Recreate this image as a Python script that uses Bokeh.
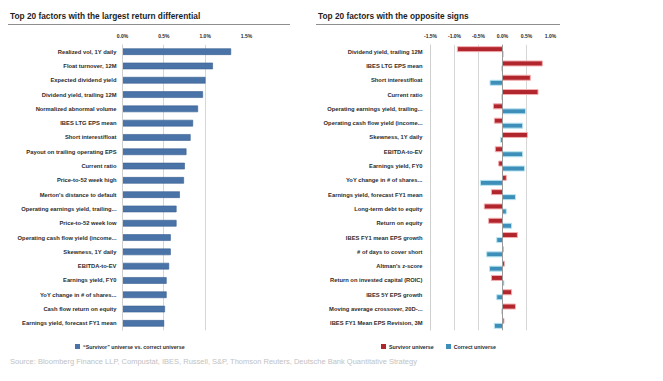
from bokeh.plotting import figure
from bokeh.models import (FactorRange, Range1d, FixedTicker, PrintfTickFormatter,
                          Span, Div, ColumnDataSource)
from bokeh.layouts import row, column
from bokeh.transform import dodge
from bokeh.embed import file_html
from bokeh.resources import INLINE

# ---------------- data ----------------
left_title = "Top 20 factors with the largest return differential"
right_title = "Top 20 factors with the opposite signs"

left_factors = [
    "Realized vol, 1Y daily", "Float turnover, 12M", "Expected dividend yield",
    "Dividend yield, trailing 12M", "Normalized abnormal volume", "IBES LTG EPS mean",
    "Short interest/float", "Payout on trailing operating EPS", "Current ratio",
    "Price-to-52 week high", "Merton's distance to default", "Operating earnings yield, trailing...",
    "Price-to-52 week low", "Operating cash flow yield (income...", "Skewness, 1Y daily",
    "EBITDA-to-EV", "Earnings yield, FY0", "YoY change in # of shares...",
    "Cash flow return on equity", "Earnings yield, forecast FY1 mean",
]
left_values = [1.31, 1.09, 1.00, 0.97, 0.91, 0.85, 0.82, 0.77, 0.75, 0.74,
               0.69, 0.65, 0.65, 0.58, 0.58, 0.56, 0.53, 0.53, 0.51, 0.50]

right_factors = [
    "Dividend yield, trailing 12M", "IBES LTG EPS mean", "Short interest/float", "Current ratio",
    "Operating earnings yield, trailing...", "Operating cash flow yield (income...",
    "Skewness, 1Y daily", "EBITDA-to-EV", "Earnings yield, FY0", "YoY change in # of shares...",
    "Earnings yield, forecast FY1 mean", "Long-term debt to equity", "Return on equity",
    "IBES FY1 mean EPS growth", "# of days to cover short", "Altman's z-score",
    "Return on invested capital (ROIC)", "IBES 5Y EPS growth", "Moving average crossover, 20D-...",
    "IBES FY1 Mean EPS Revision, 3M",
]
survivor = [-0.94, 0.83, 0.58, 0.74, -0.19, -0.17, 0.52, -0.15, -0.08, 0.08,
            -0.23, -0.38, -0.29, 0.31, 0.02, 0.04, -0.23, 0.19, 0.27, 0.03]
correct = [0.02, -0.02, -0.26, -0.02, 0.48, 0.42, -0.04, 0.42, 0.46, -0.46,
           0.27, 0.08, 0.19, -0.12, -0.33, -0.27, 0.03, -0.12, -0.02, -0.17]

left_ticks = [0.0, 0.5, 1.0, 1.5]
right_ticks = [-1.5, -1.0, -0.5, 0.0, 0.5, 1.0]

left_legend = "\u201cSurvivor\u201d universe vs. correct universe"
right_legend = ["Survivor universe", "Correct universe"]
source_text = ("Source: Bloomberg Finance LLP, Compustat, IBES, Russell, S&amp;P, "
               "Thomson Reuters, Deutsche Bank Quantitative Strategy")

# ---------------- style ----------------
FONT = "Liberation Sans"
TXT = "#2b2b2b"
GRID = "#d6d6d6"
BLUE_L = "#4a73a8"
RED = "#b1262d"
RED_HALO = "#f3aeb1"
BLUE = "#3d8fb9"
BLUE_HALO = "#b8e5f1"

H = 308
TOP = 18
BOTTOM = 4


def title_div(text, width, left_margin):
    html = ('<div style="box-sizing:border-box;width:%dpx;height:24.5px;padding:10px 0 0 2px;'
            'border-bottom:1.5px solid #8e8e8e;font-family:\'Liberation Sans\';font-weight:bold;'
            'font-size:8.3px;line-height:13px;color:#1e1e1e;white-space:nowrap">%s</div>'
            % (width, text))
    return Div(text=html, width=width, height=26, margin=(0, 0, 0, left_margin))


def legend_div(entries, width, left_margin):
    parts = []
    for i, (color, label) in enumerate(entries):
        gap = "margin-left:12px;" if i else ""
        parts.append('<span style="%sdisplay:inline-block;width:5px;height:5px;background:%s;'
                     'vertical-align:middle;margin-right:3px"></span>'
                     '<span style="vertical-align:middle">%s</span>' % (gap, color, label))
    html = ('<div style="width:%dpx;padding-top:8px;font-family:\'Liberation Sans\';'
            'font-weight:bold;font-size:5.3px;line-height:8px;color:#2b2b2b;white-space:nowrap">%s</div>'
            % (width, "".join(parts)))
    return Div(text=html, width=width, height=20, margin=(0, 0, 0, left_margin))


def make_fig(factors, xr, width, mbl, mbr, ticks, standoff):
    p = figure(width=width, height=H, x_range=xr,
               y_range=FactorRange(factors=factors[::-1]),
               x_axis_location="above", output_backend="svg", toolbar_location=None,
               min_border_left=mbl, min_border_right=mbr,
               min_border_top=TOP, min_border_bottom=BOTTOM)
    p.outline_line_color = None
    p.background_fill_color = "white"
    p.border_fill_color = "white"
    xa = p.xaxis[0]
    xa.ticker = FixedTicker(ticks=ticks)
    xa.formatter = PrintfTickFormatter(format="%.1f%%")
    xa.axis_line_color = None
    xa.major_tick_line_color = None
    xa.minor_tick_line_color = None
    xa.major_tick_out = 0
    xa.major_tick_in = 0
    xa.major_label_text_font = FONT
    xa.major_label_text_font_style = "bold"
    xa.major_label_text_font_size = "5px"
    xa.major_label_text_color = TXT
    xa.major_label_standoff = 6
    ya = p.yaxis[0]
    ya.axis_line_color = "#cfcfcf"
    ya.major_tick_line_color = None
    ya.minor_tick_line_color = None
    ya.major_tick_out = 0
    ya.major_tick_in = 0
    ya.major_label_text_font = FONT
    ya.major_label_text_font_style = "bold"
    ya.major_label_text_font_size = "5.8px"
    ya.major_label_text_color = TXT
    ya.major_label_standoff = standoff
    p.xgrid.ticker = FixedTicker(ticks=ticks)
    p.xgrid.grid_line_color = GRID
    p.ygrid.grid_line_color = None
    return p


# ---------------- left chart ----------------
pl = make_fig(left_factors, Range1d(0, 1.5), 318, 122, 72, left_ticks, 6)
src_l = ColumnDataSource(dict(y=left_factors, v=left_values))
pl.hbar(y="y", left=0, right="v", height=0.42, source=src_l,
        fill_color=BLUE_L, line_color="#3a5f90", line_width=0.6)

# ---------------- right chart ----------------
pr = make_fig(right_factors, Range1d(-1.5, 1.0), 345, 112, 113, right_ticks, 8)
src_r = ColumnDataSource(dict(y=right_factors, s=survivor, c=correct))
pr.add_layout(Span(location=0, dimension="height", line_color="#9a9a9a", line_width=1))
pr.hbar(y=dodge("y", 0.175, range=pr.y_range), left=0, right="s", height=0.35,
        source=src_r, fill_color=RED, line_color=RED_HALO, line_width=1)
pr.hbar(y=dodge("y", -0.175, range=pr.y_range), left=0, right="c", height=0.35,
        source=src_r, fill_color=BLUE, line_color=BLUE_HALO, line_width=1)

# ---------------- titles, legends & source ----------------
tl = title_div(left_title, 282, 8)
tr = title_div(right_title, 244, 26)
ll = legend_div([(BLUE_L, left_legend)], 243, 75)
lr = legend_div([(RED, right_legend[0]), (BLUE, right_legend[1])], 220, 63)
src = Div(text=source_text, width=640, height=16, margin=(3, 0, 0, 10),
          styles={"font-size": "7.5px", "color": "#c2c2c2", "font-family": FONT,
                  "white-space": "nowrap"})

layout = column(row(tl, tr), row(pl, pr), row(ll, lr), src)
open("out.html", "w").write(file_html(layout, INLINE))
